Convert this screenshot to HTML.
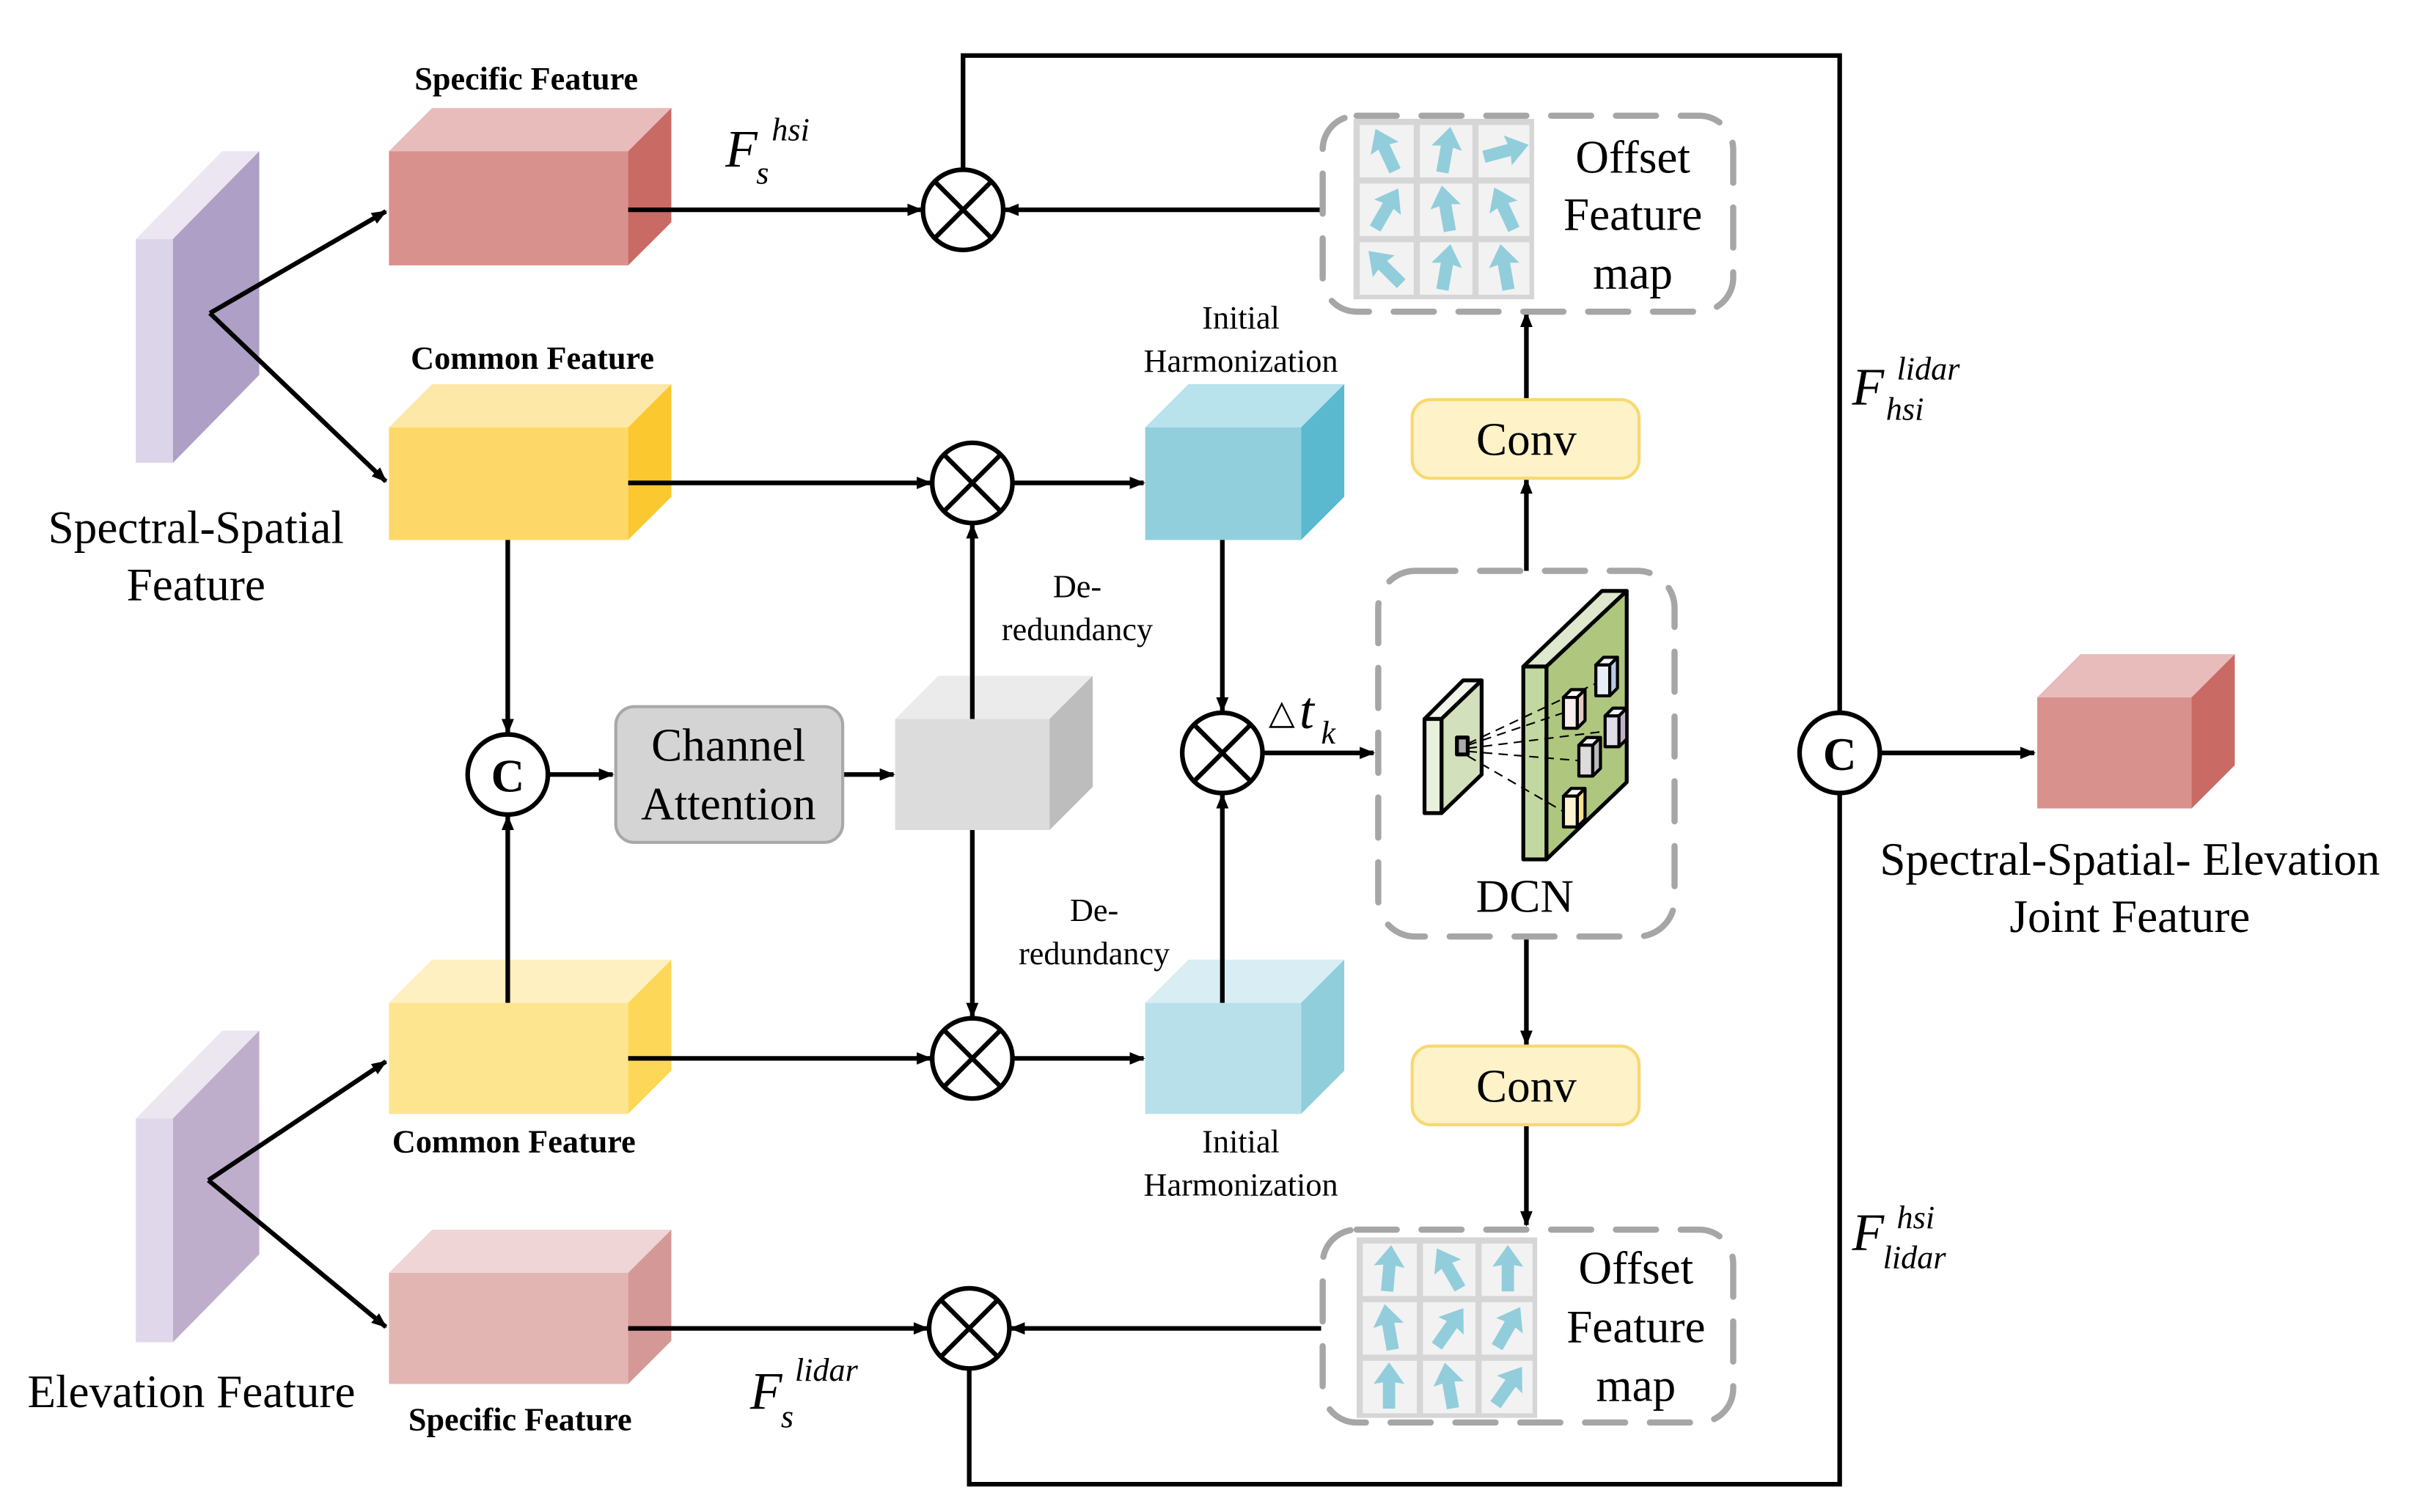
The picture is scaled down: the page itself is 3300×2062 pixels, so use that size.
<!DOCTYPE html>
<html><head><meta charset="utf-8"><style>
html,body{margin:0;padding:0;background:#fff}
svg{display:block}
text{font-family:"Liberation Serif",serif;fill:#000}
</style></head><body>
<svg width="3300" height="2062" viewBox="0 0 1568 980" preserveAspectRatio="none" xmlns="http://www.w3.org/2000/svg">
<defs>
<marker id="ah" markerWidth="10" markerHeight="8" refX="9" refY="4" orient="auto" markerUnits="userSpaceOnUse">
<path d="M0,0 L10,4 L0,8 Z" fill="#000"/></marker>
<polygon id="ar" points="0,-16 10,-2 4,-3 4,14 -4,14 -4,-3 -10,-2" fill="#92cddb"/>
</defs>
<rect width="1568" height="980" fill="#fff"/>

<polygon points="88,155 144,98 168,98 112,155" fill="#ebe6f2"/>
<polygon points="112,155 168,98 168,243 112,300" fill="#ae9fc6"/>
<rect x="88" y="155" width="24" height="145" fill="#dcd4e8"/>
<polygon points="88,725 144,668 168,668 112,725" fill="#ece6f0"/>
<polygon points="112,725 168,668 168,813 112,870" fill="#bfaecb"/>
<rect x="88" y="725" width="24" height="145" fill="#e0d8ea"/>

<g>
<polygon points="252,98 280,70 435,70 407,98" fill="#e8bcbb"/><polygon points="407,98 435,70 435,144 407,172" fill="#c96a64"/><rect x="252" y="98" width="155" height="74" fill="#d9918e"/>
<polygon points="252,277 280,249 435,249 407,277" fill="#fde8a8"/><polygon points="407,277 435,249 435,322 407,350" fill="#fcc830"/><rect x="252" y="277" width="155" height="73" fill="#fdd868"/>
<polygon points="252,650 280,622 435,622 407,650" fill="#fef0c0"/><polygon points="407,650 435,622 435,694 407,722" fill="#fdd858"/><rect x="252" y="650" width="155" height="72" fill="#fde590"/>
<polygon points="252,825 280,797 435,797 407,825" fill="#efd5d5"/><polygon points="407,825 435,797 435,869 407,897" fill="#d49896"/><rect x="252" y="825" width="155" height="72" fill="#e3b5b2"/>
<polygon points="742,277 770,249 871,249 843,277" fill="#b8e2ec"/><polygon points="843,277 871,249 871,322 843,350" fill="#5ab8cf"/><rect x="742" y="277" width="101" height="73" fill="#92cfdc"/>
<polygon points="742,650 770,622 871,622 843,650" fill="#d8eef4"/><polygon points="843,650 871,622 871,694 843,722" fill="#90cedc"/><rect x="742" y="650" width="101" height="72" fill="#b8e0ea"/>
<polygon points="580,466 608,438 708,438 680,466" fill="#ebebeb"/><polygon points="680,466 708,438 708,510 680,538" fill="#bdbdbd"/><rect x="580" y="466" width="100" height="72" fill="#dcdcdc"/>
<polygon points="1320,452 1348,424 1448,424 1420,452" fill="#e8bcbb"/><polygon points="1420,452 1448,424 1448,496 1420,524" fill="#c96a64"/><rect x="1320" y="452" width="100" height="72" fill="#d9918e"/>
</g>

<g stroke="#000" stroke-width="3" fill="none">
<line x1="136" y1="203" x2="250" y2="137" marker-end="url(#ah)"/>
<line x1="136" y1="203" x2="250" y2="312" marker-end="url(#ah)"/>
<line x1="135" y1="765" x2="250" y2="688" marker-end="url(#ah)"/>
<line x1="135" y1="765" x2="250" y2="860" marker-end="url(#ah)"/>
<line x1="407" y1="136" x2="597" y2="136" marker-end="url(#ah)"/>
<line x1="856" y1="136" x2="651" y2="136" marker-end="url(#ah)"/>
<polyline points="624,110 624,36 1192,36 1192,462"/>
<polyline points="1192,514 1192,962 628,962 628,887"/>
<line x1="407" y1="313" x2="603" y2="313" marker-end="url(#ah)"/>
<line x1="656" y1="313" x2="741" y2="313" marker-end="url(#ah)"/>
<line x1="407" y1="686" x2="603" y2="686" marker-end="url(#ah)"/>
<line x1="656" y1="686" x2="741" y2="686" marker-end="url(#ah)"/>
<line x1="407" y1="861" x2="601" y2="861" marker-end="url(#ah)"/>
<line x1="856" y1="861" x2="655" y2="861" marker-end="url(#ah)"/>
<line x1="329" y1="350" x2="329" y2="475" marker-end="url(#ah)"/>
<line x1="329" y1="650" x2="329" y2="529" marker-end="url(#ah)"/>
<line x1="355" y1="502" x2="397" y2="502" marker-end="url(#ah)"/>
<line x1="546" y1="502" x2="579" y2="502" marker-end="url(#ah)"/>
<line x1="630" y1="466" x2="630" y2="340" marker-end="url(#ah)"/>
<line x1="630" y1="538" x2="630" y2="659" marker-end="url(#ah)"/>
<line x1="792" y1="350" x2="792" y2="461" marker-end="url(#ah)"/>
<line x1="792" y1="650" x2="792" y2="515" marker-end="url(#ah)"/>
<line x1="818" y1="488" x2="890" y2="488" marker-end="url(#ah)"/>
<line x1="989" y1="259" x2="989" y2="203" marker-end="url(#ah)"/>
<line x1="989" y1="370" x2="989" y2="311" marker-end="url(#ah)"/>
<line x1="989" y1="607" x2="989" y2="677" marker-end="url(#ah)"/>
<line x1="989" y1="729" x2="989" y2="794" marker-end="url(#ah)"/>
<line x1="1218" y1="488" x2="1318" y2="488" marker-end="url(#ah)"/>
</g>

<g stroke="#000" stroke-width="3" fill="#fff">
<g transform="translate(624,136)"><circle r="26"/><path d="M-18,-18 L18,18 M18,-18 L-18,18"/></g>
<g transform="translate(630,313)"><circle r="26"/><path d="M-18,-18 L18,18 M18,-18 L-18,18"/></g>
<g transform="translate(630,686)"><circle r="26"/><path d="M-18,-18 L18,18 M18,-18 L-18,18"/></g>
<g transform="translate(628,861)"><circle r="26"/><path d="M-18,-18 L18,18 M18,-18 L-18,18"/></g>
<g transform="translate(792,488)"><circle r="26"/><path d="M-18,-18 L18,18 M18,-18 L-18,18"/></g>
<circle cx="329" cy="502" r="26"/><circle cx="1192" cy="488" r="26"/>
</g>
<text x="329" y="513" font-size="30" font-weight="bold" text-anchor="middle">C</text>
<text x="1192" y="499" font-size="30" font-weight="bold" text-anchor="middle">C</text>

<rect x="399" y="458" width="147" height="88" rx="12" fill="#d4d4d4" stroke="#a8a8a8" stroke-width="2"/>
<text x="472" y="493" font-size="30" text-anchor="middle">Channel</text>
<text x="472" y="531" font-size="30" text-anchor="middle">Attention</text>

<rect x="915" y="259" width="147" height="51" rx="12" fill="#fdf2c8" stroke="#f8d870" stroke-width="2"/>
<text x="989" y="295" font-size="30" text-anchor="middle">Conv</text>
<rect x="915" y="678" width="147" height="51" rx="12" fill="#fdf2c8" stroke="#f8d870" stroke-width="2"/>
<text x="989" y="714" font-size="30" text-anchor="middle">Conv</text>

<g stroke="#a6a6a6" stroke-width="4" fill="none" stroke-dasharray="26,16" stroke-linecap="round">
<rect x="857" y="75" width="266" height="127" rx="22"/>
<rect x="857" y="797" width="266" height="125" rx="22"/>
<rect x="893" y="370" width="192" height="237" rx="24"/>
</g>

<g>
<rect x="877" y="77" width="117" height="117" fill="#d6d6d6"/>
<g fill="#f2f2f2"><rect x="881" y="81" width="35" height="34"/><rect x="920" y="81" width="34" height="34"/><rect x="958" y="81" width="33" height="34"/>
<rect x="881" y="119" width="35" height="34"/><rect x="920" y="119" width="34" height="34"/><rect x="958" y="119" width="33" height="34"/>
<rect x="881" y="157" width="35" height="34"/><rect x="920" y="157" width="34" height="34"/><rect x="958" y="157" width="33" height="34"/></g>
<use href="#ar" transform="translate(898,98) rotate(-25)"/><use href="#ar" transform="translate(937,98) rotate(10)"/><use href="#ar" transform="translate(975,98) rotate(75)"/>
<use href="#ar" transform="translate(898,136) rotate(30)"/><use href="#ar" transform="translate(937,136) rotate(-10)"/><use href="#ar" transform="translate(975,136) rotate(-25)"/>
<use href="#ar" transform="translate(898,174) rotate(-45)"/><use href="#ar" transform="translate(937,174) rotate(10)"/><use href="#ar" transform="translate(975,174) rotate(-10)"/>
</g>
<g>
<rect x="879" y="802" width="117" height="117" fill="#d6d6d6"/>
<g fill="#f2f2f2"><rect x="883" y="806" width="35" height="34"/><rect x="922" y="806" width="34" height="34"/><rect x="960" y="806" width="33" height="34"/>
<rect x="883" y="844" width="35" height="34"/><rect x="922" y="844" width="34" height="34"/><rect x="960" y="844" width="33" height="34"/>
<rect x="883" y="882" width="35" height="34"/><rect x="922" y="882" width="34" height="34"/><rect x="960" y="882" width="33" height="34"/></g>
<use href="#ar" transform="translate(900,823) rotate(5)"/><use href="#ar" transform="translate(939,823) rotate(-30)"/><use href="#ar" transform="translate(977,823) rotate(0)"/>
<use href="#ar" transform="translate(900,861) rotate(-10)"/><use href="#ar" transform="translate(939,861) rotate(35)"/><use href="#ar" transform="translate(977,861) rotate(30)"/>
<use href="#ar" transform="translate(900,899) rotate(0)"/><use href="#ar" transform="translate(939,899) rotate(-10)"/><use href="#ar" transform="translate(977,899) rotate(35)"/>
</g>
<g font-size="30" text-anchor="middle">
<text x="1058" y="112">Offset</text><text x="1058" y="149">Feature</text><text x="1058" y="187">map</text>
<text x="1060" y="832">Offset</text><text x="1060" y="870">Feature</text><text x="1060" y="908">map</text>
</g>

<g stroke="#000" stroke-width="2.5" stroke-linejoin="round">
<polygon points="923,466 948,441 960,441 934,466" fill="#f0f4ea"/>
<polygon points="934,466 960,441 960,502 934,527" fill="#d3e0bc"/>
<rect x="923" y="466" width="11" height="61" fill="#e8f0de"/>
<rect x="944" y="478" width="7" height="11" fill="#aaa"/>
<polygon points="987,432 1038,383 1054,383 1002,432" fill="#dde8cc"/>
<polygon points="1002,432 1054,383 1054,507 1002,557" fill="#aec67e"/>
<rect x="987" y="432" width="15" height="125" fill="#c3d7a0"/>
</g>
<g stroke="#000" stroke-width="1" stroke-dasharray="6,4" fill="none">
<line x1="951" y1="482" x2="1034" y2="443"/><line x1="951" y1="483" x2="1013" y2="462"/>
<line x1="951" y1="485" x2="1040" y2="474"/><line x1="951" y1="487" x2="1023" y2="493"/>
<line x1="951" y1="490" x2="1013" y2="526"/>
</g>
<g stroke="#000" stroke-width="2" stroke-linejoin="round">
<g transform="translate(1034,431)"><polygon points="0,0 5,-5 14,-5 9,0" fill="#f4f4f8"/><rect x="0" y="0" width="9" height="20" fill="#e8eef8"/><polygon points="9,0 14,-5 14,15 9,20" fill="#b8c8e4"/></g>
<g transform="translate(1013,452)"><polygon points="0,0 5,-5 14,-5 9,0" fill="#fff"/><rect x="0" y="0" width="9" height="20" fill="#f8eeee"/><polygon points="9,0 14,-5 14,15 9,20" fill="#e8c8c4"/></g>
<g transform="translate(1040,464)"><polygon points="0,0 5,-5 14,-5 9,0" fill="#f4f4f8"/><rect x="0" y="0" width="9" height="20" fill="#e0dce8"/><polygon points="9,0 14,-5 14,15 9,20" fill="#c0b0cc"/></g>
<g transform="translate(1023,483)"><polygon points="0,0 5,-5 14,-5 9,0" fill="#f4f4f4"/><rect x="0" y="0" width="9" height="20" fill="#dcdcdc"/><polygon points="9,0 14,-5 14,15 9,20" fill="#bbb"/></g>
<g transform="translate(1013,516)"><polygon points="0,0 5,-5 14,-5 9,0" fill="#fffaf0"/><rect x="0" y="0" width="9" height="20" fill="#fef2d4"/><polygon points="9,0 14,-5 14,15 9,20" fill="#fce090"/></g>
</g>
<text x="988" y="591" font-size="30" text-anchor="middle">DCN</text>

<g text-anchor="middle">
<text x="341" y="58" font-size="21" font-weight="bold">Specific Feature</text>
<text x="345" y="239" font-size="21" font-weight="bold">Common Feature</text>
<text x="333" y="747" font-size="21" font-weight="bold">Common Feature</text>
<text x="337" y="927" font-size="21" font-weight="bold">Specific Feature</text>
<text x="804" y="213" font-size="21">Initial</text>
<text x="804" y="241" font-size="21">Harmonization</text>
<text x="804" y="747" font-size="21">Initial</text>
<text x="804" y="775" font-size="21">Harmonization</text>
<text x="698" y="387" font-size="21">De-</text>
<text x="698" y="415" font-size="21">redundancy</text>
<text x="709" y="597" font-size="21">De-</text>
<text x="709" y="625" font-size="21">redundancy</text>
<text x="127" y="352" font-size="30">Spectral-Spatial</text>
<text x="127" y="389" font-size="30">Feature</text>
<text x="124" y="912" font-size="30">Elevation Feature</text>
<text x="1380" y="567" font-size="30">Spectral-Spatial- Elevation</text>
<text x="1380" y="604" font-size="30">Joint Feature</text>
</g>
<g font-style="italic">
<text x="470" y="108" font-size="34">F</text><text x="500" y="91" font-size="21">hsi</text><text x="490" y="119" font-size="21">s</text>
<text x="486" y="913" font-size="34">F</text><text x="515" y="895" font-size="21">lidar</text><text x="506" y="925" font-size="21">s</text>
<text x="1200" y="262" font-size="34">F</text><text x="1229" y="246" font-size="21">lidar</text><text x="1222" y="272" font-size="21">hsi</text>
<text x="1200" y="810" font-size="34">F</text><text x="1229" y="796" font-size="21">hsi</text><text x="1220" y="822" font-size="21">lidar</text>
<text x="822" y="469" font-size="22" font-style="normal">△</text><text x="842" y="472" font-size="34">t</text><text x="856" y="482" font-size="21">k</text>
</g>
</svg>
</body></html>
